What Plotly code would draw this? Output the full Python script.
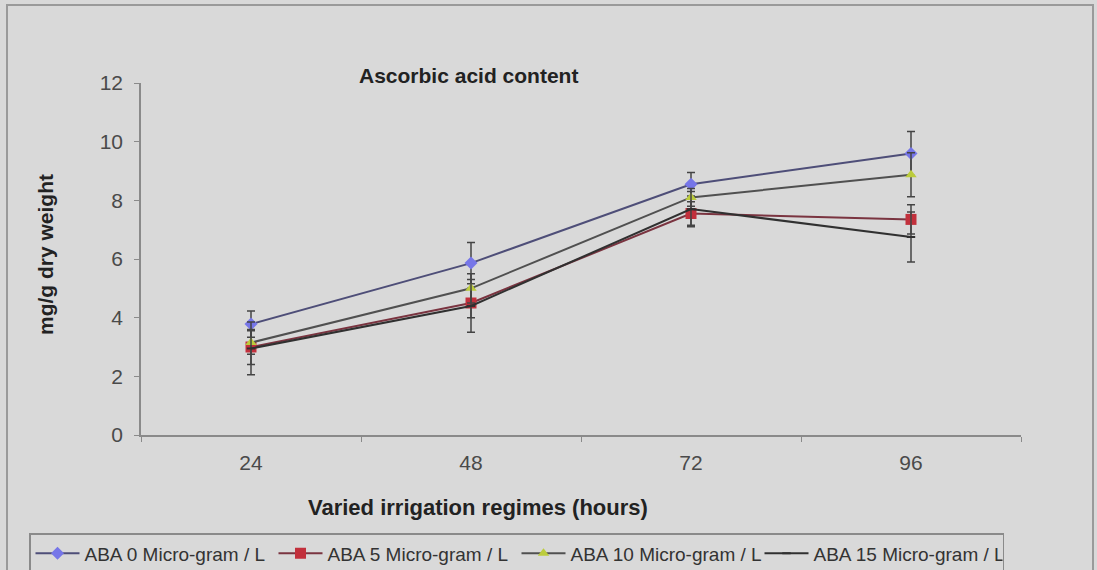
import plotly.graph_objects as go

categories = ["24", "48", "72", "96"]
series_names = ["ABA 0 Micro-gram / L", "ABA 5 Micro-gram / L",
                "ABA 10 Micro-gram / L", "ABA 15 Micro-gram / L"]
aba0 = [3.78, 5.86, 8.55, 9.6]
aba5 = [3.0, 4.5, 7.55, 7.35]
aba10 = [3.15, 5.0, 8.1, 8.87]
aba15 = [2.95, 4.4, 7.7, 6.75]
err0 = [0.45, 0.7, 0.4, 0.75]
err5 = [0.6, 0.5, 0.4, 0.5]
err10 = [0.4, 0.5, 0.3, 0.75]
err15 = [0.9, 0.9, 0.6, 0.85]
y_ticks = [0, 2, 4, 6, 8, 10, 12]

W, H = 1097, 570
L, R, T, B = 141, 76, 83, 135
pw, ph = W - L - R, H - T - B
def px(x): return (x - L) / pw
def py(y): return (H - B - y) / ph

bg = "#d9d9d9"
fig = go.Figure()
styles = [
    dict(line_color="#4e4e78", marker=dict(symbol="diamond", size=10, color="#7676e8")),
    dict(line_color="#7a3440", marker=dict(symbol="square", size=11, color="#c2303c")),
    dict(line_color="#505050", marker=dict(symbol="triangle-up", size=10, color="#bccc3c")),
    dict(line_color="#303030", marker=dict(symbol="line-ew", size=6, color="#303030",
                                           line=dict(width=2, color="#303030"))),
]
for name, vals, errs, st in zip(series_names, [aba0, aba5, aba10, aba15],
                                 [err0, err5, err10, err15], styles):
    fig.add_trace(go.Scatter(
        x=categories, y=vals, name=name, mode="lines+markers",
        line=dict(color=st["line_color"], width=2),
        marker=st["marker"],
        error_y=dict(type="data", array=errs, visible=True, color="#444444",
                     thickness=1.5, width=4),
    ))

axis_font = dict(family="Liberation Sans, Arial", size=21, color="#4a4a4a")
fig.update_layout(
    width=W, height=H,
    margin=dict(l=L, r=R, t=T, b=B, autoexpand=False),
    paper_bgcolor=bg, plot_bgcolor=bg,
    font=dict(family="Liberation Sans, Arial", color="#333333"),
    xaxis=dict(type="category", range=[-0.5, 3.5], showgrid=False,
               showline=True, linecolor="#8a8a8a", linewidth=1.5,
               ticks="outside", tickson="boundaries", ticklen=5,
               tickcolor="#8a8a8a", tickfont=axis_font, ticklabelstandoff=8,
               zeroline=False),
    yaxis=dict(range=[0, 12], tickvals=y_ticks, showgrid=False,
               showline=True, linecolor="#8a8a8a", linewidth=1.5,
               ticks="outside", ticklen=5, tickcolor="#8a8a8a",
               tickfont=axis_font, ticklabelstandoff=7, zeroline=False),
    showlegend=True,
    legend=dict(orientation="h", x=px(29), xanchor="left", y=py(533), yanchor="top",
                bgcolor=bg, bordercolor="#8a8a8a", borderwidth=1.5,
                font=dict(family="Liberation Sans, Arial", size=19, color="#333333"),
                itemwidth=44, entrywidth=184, entrywidthmode="pixels", tracegroupgap=0),
    shapes=[dict(type="rect", xref="paper", yref="paper",
                 x0=px(7), x1=px(1093), y0=py(580), y1=py(5),
                 line=dict(color="#9a9a9a", width=2), fillcolor="rgba(0,0,0,0)",
                 layer="below")],
    annotations=[
        dict(text="<b>Ascorbic acid content</b>", xref="paper", yref="paper",
             x=px(468), y=py(75), xanchor="center", yanchor="middle", showarrow=False,
             font=dict(size=21, color="#222222")),
        dict(text="<b>mg/g dry weight</b>", xref="paper", yref="paper",
             x=px(45), y=py(255), xanchor="center", yanchor="middle",
             showarrow=False, textangle=-90,
             font=dict(size=21, color="#222222")),
        dict(text="<b>Varied irrigation regimes (hours)</b>", xref="paper", yref="paper",
             x=px(478), y=py(507), xanchor="center", yanchor="middle", showarrow=False,
             font=dict(size=22, color="#222222")),
    ],
)
fig.write_html("out.html", config={"displayModeBar": False},
               post_script="document.body.style.margin='0';document.body.style.overflow='hidden';")
